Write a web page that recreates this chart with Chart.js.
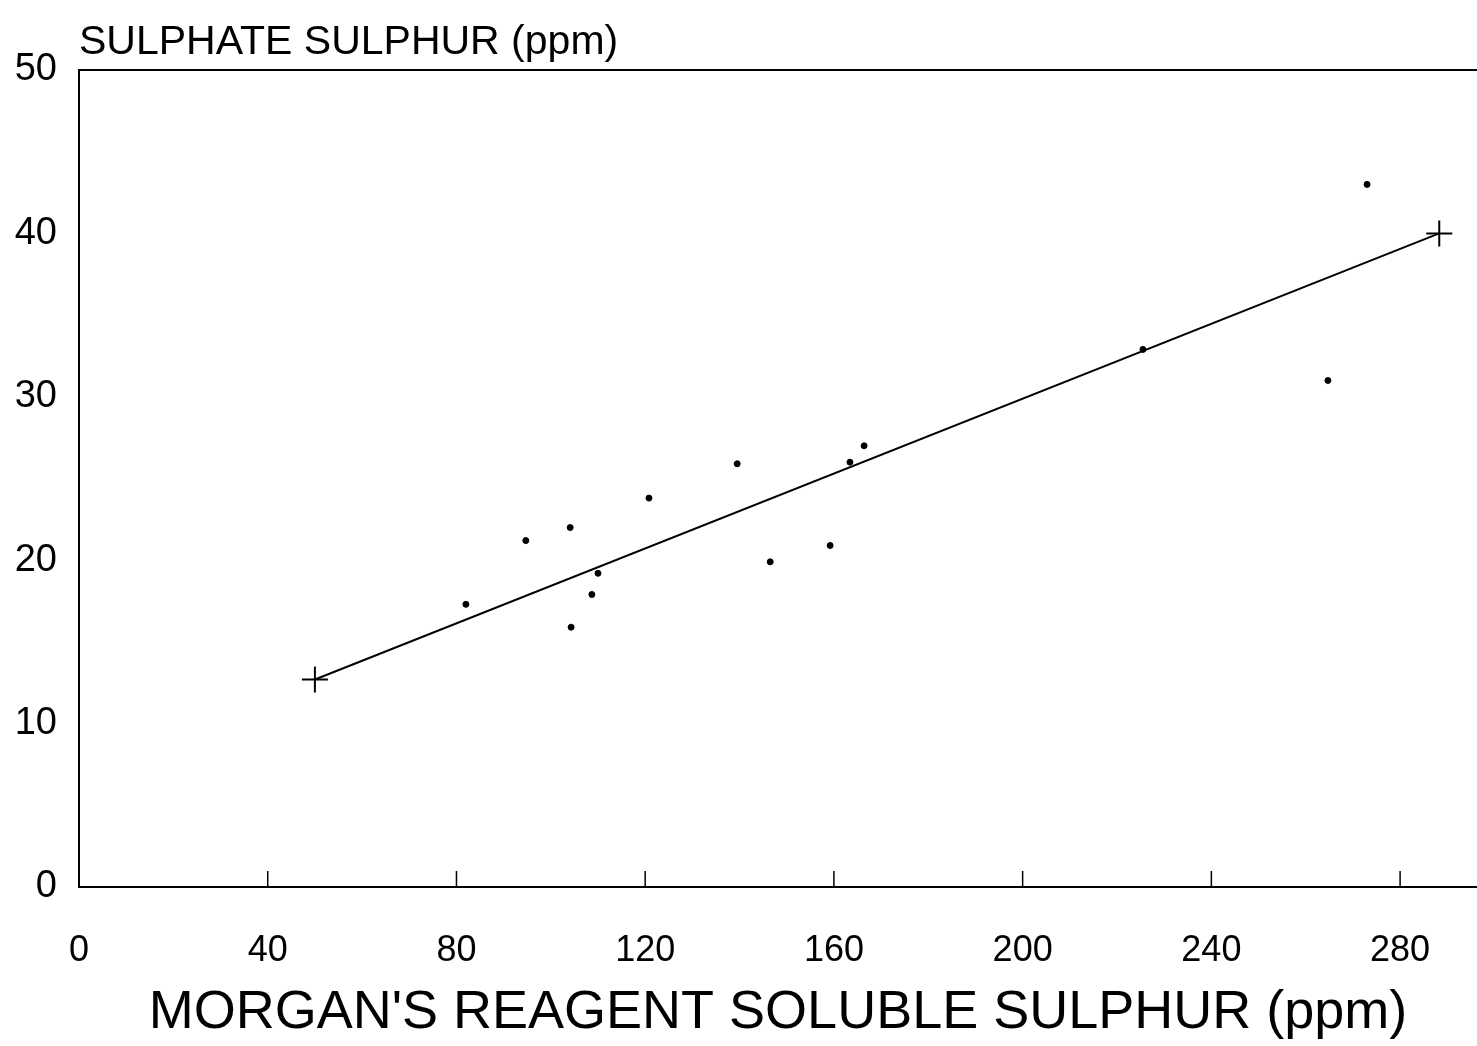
<!DOCTYPE html>
<html lang="en">
<head>
    <meta charset="UTF-8">
    <title>Sulphate Sulphur vs Morgan's Reagent Soluble Sulphur</title>
    <script src="https://cdn.jsdelivr.net/npm/chart.js"></script>
    <style>
        html, body { margin: 0; padding: 0; background: #fff; overflow: hidden; }
        #wrap { width: 1477px; height: 1046px; }
        canvas { display: block; }
    </style>
</head>
<body>
    <div id="wrap"><canvas id="chart"></canvas></div>

    <script>
        // observed samples (ppm)
        const morganS = [82, 94.7, 104.1, 104.3, 108.7, 110, 120.8, 139.5, 146.5, 159.2, 163.4, 166.4, 225.5, 264.7, 273];
        const sulphateS = [17.3, 21.2, 22.0, 15.9, 17.9, 19.2, 23.8, 25.9, 19.9, 20.9, 26.0, 27.0, 32.9, 31.0, 43.0];

        // regression line end points (marked with crosses)
        const fitX = [50, 288.3];
        const fitY = [12.7, 40.0];

        const xTicks = [0, 40, 80, 120, 160, 200, 240, 280];
        const yTicks = [0, 10, 20, 30, 40, 50];

        const fontFamily = "'Liberation Sans', 'DejaVu Sans', sans-serif";

        // frame + inward tick marks + top-left axis caption
        const framePlugin = {
            id: 'frame',
            afterDraw(chart) {
                const ctx = chart.ctx;
                const a = chart.chartArea;
                const xs = chart.scales.x;
                ctx.save();
                ctx.strokeStyle = '#000';
                ctx.lineWidth = 2;
                ctx.beginPath();
                ctx.moveTo(a.right + 2, a.top);
                ctx.lineTo(a.left, a.top);
                ctx.lineTo(a.left, a.bottom);
                ctx.lineTo(a.right + 2, a.bottom);
                ctx.stroke();

                ctx.lineWidth = 1.5;
                xs.ticks.forEach(t => {
                    if (t.value === 0) return;
                    const px = xs.getPixelForValue(t.value);
                    ctx.beginPath();
                    ctx.moveTo(px, a.bottom);
                    ctx.lineTo(px, a.bottom - 16);
                    ctx.stroke();
                });

                ctx.fillStyle = '#000';
                ctx.font = '41px ' + fontFamily;
                ctx.textAlign = 'left';
                ctx.textBaseline = 'alphabetic';
                ctx.fillText('SULPHATE SULPHUR (ppm)', a.left, a.top - 16);
                ctx.restore();
            }
        };

        new Chart(document.getElementById('chart'), {
            type: 'scatter',
            data: {
                datasets: [
                    {
                        label: 'samples',
                        data: morganS.map((x, i) => ({ x: x, y: sulphateS[i] })),
                        backgroundColor: '#000',
                        borderColor: '#000',
                        pointRadius: 3,
                        pointHoverRadius: 3
                    },
                    {
                        label: 'fit',
                        type: 'line',
                        data: fitX.map((x, i) => ({ x: x, y: fitY[i] })),
                        borderColor: '#000',
                        borderWidth: 2,
                        pointStyle: 'cross',
                        pointRadius: 13,
                        pointBorderWidth: 2,
                        pointBorderColor: '#000',
                        fill: false,
                        tension: 0
                    }
                ]
            },
            options: {
                responsive: true,
                maintainAspectRatio: false,
                animation: false,
                layout: { autoPadding: false, padding: { top: 70, right: 0, left: 0, bottom: 0 } },
                plugins: {
                    legend: { display: false },
                    tooltip: { enabled: false }
                },
                scales: {
                    x: {
                        type: 'linear',
                        min: 0,
                        max: 296.3,
                        afterBuildTicks: s => { s.ticks = xTicks.map(v => ({ value: v })); },
                        afterFit: s => { s.height = 159; s.paddingRight = 0; s.paddingLeft = 0; },
                        grid: { display: false },
                        border: { display: false },
                        ticks: {
                            color: '#000',
                            padding: 34,
                            font: { family: fontFamily, size: 36 }
                        },
                        title: {
                            display: true,
                            text: "MORGAN'S REAGENT SOLUBLE SULPHUR (ppm)",
                            color: '#000',
                            font: { family: fontFamily, size: 54 },
                            padding: { top: 0, bottom: 0 }
                        }
                    },
                    y: {
                        min: 0,
                        max: 50,
                        afterBuildTicks: s => { s.ticks = yTicks.map(v => ({ value: v })); },
                        afterFit: s => { s.width = 79; s.paddingTop = 0; s.paddingBottom = 0; },
                        grid: { display: false },
                        border: { display: false },
                        ticks: {
                            color: '#000',
                            padding: 14,
                            font: { family: fontFamily, size: 38 }
                        }
                    }
                }
            },
            plugins: [framePlugin]
        });
    </script>
</body>
</html>
